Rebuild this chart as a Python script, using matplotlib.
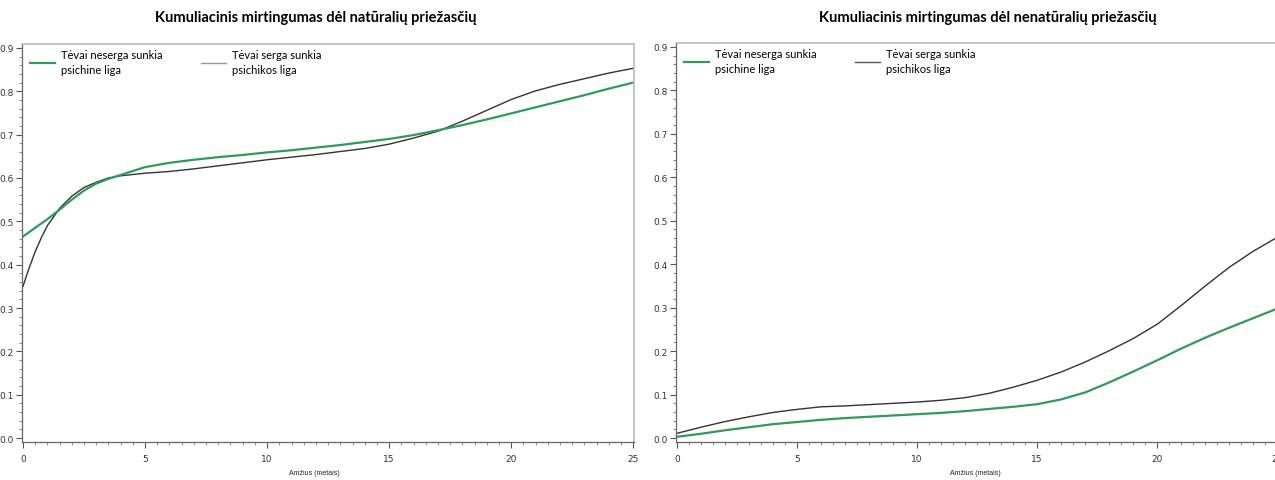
import numpy as np
import matplotlib.pyplot as plt
from matplotlib.ticker import MultipleLocator

# kairė: natūralios priežastys
x_nat_green = [0, 0.5, 1, 1.5, 2, 2.5, 3, 3.5, 4, 5, 6, 7, 8, 9, 10, 11, 12, 13,
               14, 15, 16, 17, 18, 19, 20, 21, 22, 23, 24, 25]
y_nat_green = [0.465, 0.485, 0.505, 0.527, 0.550, 0.571, 0.587, 0.598, 0.607,
               0.625, 0.635, 0.642, 0.648, 0.653, 0.659, 0.664, 0.670, 0.676,
               0.683, 0.690, 0.699, 0.710, 0.722, 0.735, 0.749, 0.763, 0.777,
               0.791, 0.806, 0.820]
x_nat_black = [0, 0.25, 0.5, 0.75, 1, 1.5, 2, 2.5, 3, 3.5, 4, 5, 6, 7, 8, 9, 10,
               11, 12, 13, 14, 15, 16, 17, 18, 19, 20, 21, 22, 23, 24, 25]
y_nat_black = [0.350, 0.392, 0.430, 0.462, 0.490, 0.530, 0.558, 0.578, 0.590,
               0.600, 0.605, 0.611, 0.615, 0.621, 0.628, 0.635, 0.642, 0.648,
               0.654, 0.661, 0.668, 0.678, 0.692, 0.708, 0.731, 0.756, 0.781,
               0.801, 0.816, 0.829, 0.842, 0.853]

# dešinė: nenatūralios priežastys
x_unnat = list(range(26))
y_unnat_green = [0.003, 0.010, 0.018, 0.025, 0.032, 0.037, 0.042, 0.046, 0.049,
                 0.052, 0.055, 0.058, 0.062, 0.067, 0.072, 0.078, 0.089, 0.105,
                 0.128, 0.153, 0.179, 0.206, 0.231, 0.254, 0.276, 0.298]
y_unnat_black = [0.011, 0.025, 0.038, 0.049, 0.059, 0.066, 0.072, 0.074, 0.077,
                 0.080, 0.083, 0.087, 0.093, 0.103, 0.117, 0.133, 0.152, 0.175,
                 0.201, 0.229, 0.262, 0.305, 0.350, 0.393, 0.430, 0.462]

titles = ['Kumuliacinis mirtingumas dėl natūralių priežasčių',
          'Kumuliacinis mirtingumas dėl nenatūralių priežasčių']
lab_green = 'Tėvai neserga sunkia\npsichine liga'
lab_black = 'Tėvai serga sunkia\npsichikos liga'
xlab = 'Amžius (metais)'

green = '#2f9a5a'
black = '#333333'

W, H = 1275, 481
fig = plt.figure(figsize=(W / 100, H / 100), dpi=100)

def px(l, r, t, b):
    return [l / W, 1 - b / H, (r - l) / W, (b - t) / H]

ax1 = fig.add_axes(px(22, 634, 45, 443))
ax2 = fig.add_axes(px(676, 1278, 44, 443))

panels = [(ax1, x_nat_green, y_nat_green, x_nat_black, y_nat_black, '#999999'),
          (ax2, x_unnat, y_unnat_green, x_unnat, y_unnat_black, '#555555')]

for ax, xg, yg, xb, yb, hcol in panels:
    ax.plot(xb, yb, color=black, lw=1.0, label=lab_black)
    ax.plot(xg, yg, color=green, lw=1.6, label=lab_green)
    ax.set_xlim(-0.04, 25.03)
    ax.set_ylim(-0.009, 0.909)
    ax.xaxis.set_minor_locator(MultipleLocator(0.5))
    ax.yaxis.set_minor_locator(MultipleLocator(0.02))
    ax.set_xticks([0, 5, 10, 15, 20, 25])
    ax.set_xticklabels(['0', '5', '10', '15', '20', '25'])
    ax.set_yticks(np.arange(0, 0.91, 0.1))
    ax.set_yticklabels(['%.1f' % v for v in np.arange(0, 0.91, 0.1)])
    ax.tick_params(which='major', length=4, width=0.8, color='#555555',
                   labelsize=6.5, labelcolor='#333333', pad=5)
    ax.tick_params(axis='y', which='major', pad=2)
    ax.tick_params(which='minor', length=2.5, width=0.6, color='#777777')
    for s in ['left', 'bottom']:
        ax.spines[s].set_color('#666666')
        ax.spines[s].set_linewidth(0.9)
    for s in ['top', 'right']:
        ax.spines[s].set_color('#bbbbbb')
        ax.spines[s].set_linewidth(1.2)
    h, l = ax.get_legend_handles_labels()
    leg = ax.legend([h[1], h[0]], [l[1], l[0]], loc='upper left', ncol=2,
                    frameon=False, bbox_to_anchor=(-0.003, 1.012),
                    handlelength=2.25, handletextpad=0.55, columnspacing=3.4,
                    prop={'family': 'Lato', 'size': 8})
    for t in leg.get_texts():
        t.set_linespacing(1.45)
    leg.legend_handles[1].set_color(hcol)
    leg.legend_handles[1].set_linewidth(1.0)
    leg.legend_handles[0].set_linewidth(1.6)

# ašių pavadinimai ir antraštės
for xc in [314, 975]:
    fig.text(xc / W, 1 - 474 / H, xlab, ha='center', va='center',
             fontsize=5, fontfamily='Liberation Sans', color='#222222')
fig.text(316 / W, 1 - 18 / H, titles[0], ha='center', va='center',
         fontsize=10.5, fontweight='bold', fontfamily='Lato')
fig.text(988 / W, 1 - 18 / H, titles[1], ha='center', va='center',
         fontsize=10.5, fontweight='bold', fontfamily='Lato')

fig.savefig('out.png', dpi=100)
